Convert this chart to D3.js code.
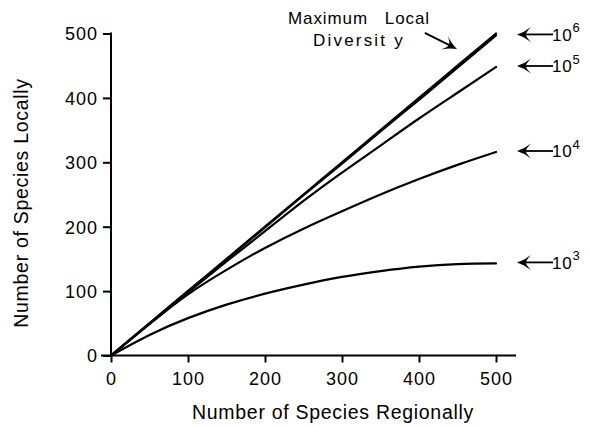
<!DOCTYPE html>
<html>
<head>
<meta charset="utf-8">
<script src="https://cdn.jsdelivr.net/npm/d3@7"></script>
<style>
  body { margin: 0; background: #fff; }
  svg { display: block; }
  .axis path, .axis line { stroke: #000; stroke-width: 2px; }
  .axis text { font-family: "Liberation Sans", Arial, sans-serif; font-size: 18px; letter-spacing: 1px; fill: #000; }
  .label { font-family: "Liberation Sans", Arial, sans-serif; font-size: 19.5px; letter-spacing: 0.7px; fill: #000; }
  .curve { fill: none; stroke: #000; stroke-width: 2.2px; stroke-linejoin: round; stroke-linecap: round; }
  .note { font-family: "Liberation Sans", Arial, sans-serif; font-size: 17px; fill: #000; }
</style>
</head>
<body>
<svg id="chart" width="590" height="427"></svg>
<script>
  // species regionally (x) and species locally for each regional pool size
  const regional = [0, 50, 100, 150, 200, 250, 300, 350, 400, 450, 500];
  const maxLocal = [0, 50, 100, 150, 200, 250, 300, 350, 400, 450, 500];
  const pool1e6 = [0, 50, 100, 149, 199, 249, 298, 348, 397, 447, 497];
  const pool1e5 = [0, 49, 98, 146, 193, 240, 284, 326, 368, 408, 448];
  const pool1e4 = [0, 49, 95, 133, 167, 197, 224, 250, 274, 296, 316];
  const pool1e3 = [0, 32, 58, 79, 96, 110, 122, 131, 138, 142, 143];
  const poolExp = ["6", "5", "4", "3"];
  const xTicks = [0, 100, 200, 300, 400, 500];
  const yTicks = [0, 100, 200, 300, 400, 500];

  const svg = d3.select("#chart");
  const x = d3.scaleLinear().domain([0, 500]).range([111, 496]);
  const y = d3.scaleLinear().domain([0, 500]).range([355.5, 33.5]);

  // axes
  const gx = svg.append("g").attr("class", "axis")
    .attr("transform", `translate(0,${y(0)})`)
    .call(d3.axisBottom(x).tickValues(xTicks).tickSize(7).tickSizeOuter(0).tickPadding(10));
  gx.select(".domain").remove();
  gx.append("line").attr("x1", x(0) - 10).attr("x2", x(500) + 20).attr("stroke", "#000").attr("stroke-width", 2);

  const gy = svg.append("g").attr("class", "axis")
    .attr("transform", `translate(${x(0)},0)`)
    .call(d3.axisLeft(y).tickValues(yTicks).tickSize(8).tickSizeOuter(0).tickPadding(5));
  gy.select(".domain").remove();
  gy.append("line").attr("y1", y(0)).attr("y2", y(500) - 1).attr("stroke", "#000").attr("stroke-width", 2);
  gy.selectAll(".tick text").attr("dy", "0.36em");

  svg.append("text").attr("class", "label")
    .attr("x", 333).attr("y", 419).attr("text-anchor", "middle")
    .text("Number of Species Regionally");
  svg.append("text").attr("class", "label")
    .attr("transform", "translate(28,203) rotate(-90)").attr("text-anchor", "middle")
    .text("Number of Species Locally");

  // curves
  const line = d3.line()
    .x((d, i) => x(regional[i]))
    .y(d => y(d))
    .curve(d3.curveNatural);

  svg.append("path").attr("class", "curve").attr("d", line(maxLocal)).attr("stroke-width", 2.6);
  const pools = [pool1e6, pool1e5, pool1e4, pool1e3];
  svg.selectAll(".pool").data(pools).enter().append("path")
    .attr("class", "curve pool")
    .attr("stroke-width", (d, i) => i === 0 ? 2.6 : 2.2)
    .attr("d", d => line(d));

  // right-hand labels with arrows
  const head = "M0,0 Q7,-2 14,-7.5 Q9,-2.5 9,0 Q9,2.5 14,7.5 Q7,2 0,0 Z";
  const lab = svg.selectAll(".plab").data(pools).enter().append("g")
    .attr("class", "plab")
    .attr("transform", d => `translate(517,${y(d[d.length - 1]) - 1})`);
  lab.append("path").attr("d", head).attr("fill", "#000");
  lab.append("line").attr("x1", 8).attr("x2", 36).attr("stroke", "#000").attr("stroke-width", 1.8);
  const t = lab.append("text").attr("class", "note").attr("x", 35).attr("y", 6.5)
    .attr("font-size", 18.5).attr("letter-spacing", 0.8);
  t.append("tspan").text("10");
  t.append("tspan").attr("dy", -8.5).attr("font-size", 13).text((d, i) => poolExp[i]);

  // Maximum Local Diversity note
  svg.append("text").attr("class", "note").attr("x", 288).attr("y", 24).attr("letter-spacing", 0.9)
    .attr("xml:space", "preserve").text("Maximum   Local");
  svg.append("text").attr("class", "note").attr("x", 313).attr("y", 46).attr("letter-spacing", 2.2)
    .attr("xml:space", "preserve").text("Diversit y");
  const ang = Math.atan2(49 - 33, 457 - 425) * 180 / Math.PI;
  const na = svg.append("g").attr("transform", `translate(457,49) rotate(${ang + 180})`);
  na.append("path").attr("d", head).attr("fill", "#000");
  na.append("line").attr("x1", 8).attr("x2", 36).attr("stroke", "#000").attr("stroke-width", 2);
</script>
</body>
</html>
